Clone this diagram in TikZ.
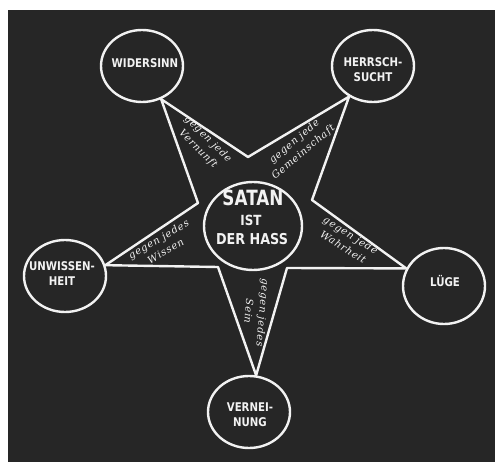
\documentclass[tikz,border=0pt]{standalone}
\usepackage{fontspec}
\usetikzlibrary{shapes.geometric,backgrounds}
\newfontfamily\capsfont[FakeStretch=0.85]{DejaVu Sans}
\newfontfamily\satanfont[FakeStretch=0.8]{DejaVu Sans}
\newfontfamily\handfont[LetterSpace=8]{DejaVu Serif}
\definecolor{board}{HTML}{262626}
\definecolor{chalk}{HTML}{F2F2F2}
\begin{document}
\begin{tikzpicture}[x=1pt,y=-1pt,
  chalkline/.style={draw=chalk,line width=2.4pt,line join=round},
  ring/.style={ellipse,draw=chalk,line width=2.4pt,fill=board,minimum width=82pt,minimum height=72pt,inner sep=0pt},
  caps/.style={text=chalk,font=\capsfont\bfseries\fontsize{12}{15}\selectfont,align=center,inner sep=0pt},
  hand/.style={text=chalk,font=\handfont\itshape\fontsize{10}{14}\selectfont,align=center,inner sep=0pt}]
\useasboundingbox (0,0) rectangle (495,462);
\begin{pgfonlayer}{background}
\fill[white] (0,0) rectangle (495,462);
\fill[board] (8,10) rectangle (495,462);
\end{pgfonlayer}
% circles
\node[ring] (wid) at (142,66) {};
\node[ring] (her) at (373,66) {};
\node[ring] (unw) at (65,276) {};
\node[ring,minimum height=76pt] (lug) at (444,286) {};
\node[ring] (ver) at (249,412) {};
\node[ring,minimum width=98pt,minimum height=88pt] (sat) at (253,226) {};
% star tips and inner vertices
\coordinate (tTL) at (wid.-60);
\coordinate (tTR) at (her.-128);
\coordinate (tR) at (lug.155);
\coordinate (tB) at (ver.79);
\coordinate (tL) at (unw.15);
\coordinate (iT) at (248,157);
\coordinate (iTR) at (312,200);
\coordinate (iR) at (287,268);
\coordinate (iL) at (218,267);
\coordinate (iTL) at (198,203);
\begin{pgfonlayer}{background}
\draw[chalkline] (tTL) -- (iT) -- (tTR) -- (iTR) -- (tR) -- (iR) -- (tB) -- (iL) -- (tL) -- (iTL) -- cycle;
\end{pgfonlayer}
% circle texts
\node[caps] (widT) at (145,63) {WIDERSINN};
\node[caps] (herT) at (373,70) {HERRSCH-\\SUCHT};
\node[caps] (unwT) at (62,274) {UNWISSEN-\\HEIT};
\node[caps] (lugT) at (445,281) {LÜGE};
\node[caps] (verT) at (250,415) {VERNEI-\\NUNG};
\node[text=chalk,font=\satanfont\bfseries\fontsize{21}{21}\selectfont,inner sep=0pt] (satT) at (253,198) {SATAN};
\node[caps,font=\capsfont\bfseries\fontsize{14}{14}\selectfont] (istT) at (251,220) {IST};
\node[caps,font=\capsfont\bfseries\fontsize{15}{15}\selectfont] (hassT) at (252,239) {DER HASS};
% arm labels
\node[hand,rotate=-45] (labTL) at (203,144) {gegen jede\\Vernunft};
\node[hand,rotate=40] (labTR) at (299,147) {gegen jede\\Gemeinschaft};
\node[hand,rotate=30] (labL) at (162,245) {gegen jedes\\Wissen};
\node[hand,rotate=-32] (labR) at (347,241) {gegen jede\\Wahrheit};
\node[hand,rotate=-95] (labB) at (256,312) {gegen jedes\\Sein};
\end{tikzpicture}
\end{document}
